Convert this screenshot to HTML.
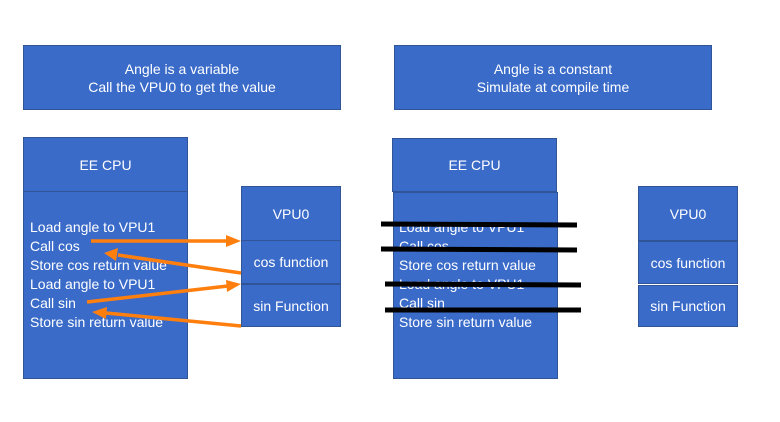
<!DOCTYPE html>
<html><head><style>
body{margin:0;width:780px;height:422px;background:#fff;position:relative;overflow:hidden;font-family:"Liberation Sans",sans-serif;}
.b{position:absolute;background:#3a6bc9;border:1px solid #2f5597;box-sizing:border-box;color:#fff;}
.c{display:flex;align-items:center;justify-content:center;text-align:center;font-size:14px;line-height:18px;white-space:nowrap;}
.t{position:absolute;color:#fff;font-size:14px;line-height:19px;white-space:nowrap;}
</style></head><body>
<div class="b c" style="left:23px;top:45px;width:318px;height:65px">Angle is a variable<br>Call the VPU0 to get the value</div>
<div class="b c" style="left:394px;top:45px;width:318px;height:65px">Angle is a constant<br>Simulate at compile time</div>

<div class="b c" style="left:23px;top:137px;width:165px;height:55px">EE CPU</div>
<div class="b" style="left:23px;top:191px;width:165px;height:188px"></div>
<div class="t" style="left:30px;top:218px">Load angle to VPU1<br>Call cos<br>Store cos return value<br>Load angle to VPU1<br>Call sin<br>Store sin return value</div>
<div class="b c" style="left:241px;top:186px;width:100px;height:55px">VPU0</div>
<div class="b c" style="left:241px;top:240px;width:100px;height:44px">cos function</div>
<div class="b c" style="left:241px;top:284px;width:100px;height:43px">sin Function</div>

<div class="b c" style="left:392px;top:138px;width:165px;height:54px">EE CPU</div>
<div class="b" style="left:393px;top:192px;width:165px;height:187px"></div>
<div class="t" style="left:399px;top:218px">Load angle to VPU1<br>Call cos<br>Store cos return value<br>Load angle to VPU1<br>Call sin<br>Store sin return value</div>
<div class="b c" style="left:638px;top:186px;width:100px;height:55px">VPU0</div>
<div class="b c" style="left:638px;top:241px;width:100px;height:43px">cos function</div>
<div class="b c" style="left:638px;top:285px;width:100px;height:42px">sin Function</div>

<svg style="position:absolute;left:0;top:0" width="780" height="422">
<g stroke="#ff7f0e" stroke-width="3.5" fill="#ff7f0e">
<line x1="91" y1="241" x2="228" y2="241"/><polygon points="241,241 226,235 226,247" stroke="none"/>
<line x1="241" y1="273" x2="118" y2="255"/><polygon points="104,253 118,248 116,261" stroke="none"/>
<line x1="87" y1="302" x2="228" y2="286"/><polygon points="241,284 226,280 227,292" stroke="none"/>
<line x1="241" y1="326" x2="106" y2="313"/><polygon points="92,312 107,307 106,319" stroke="none"/>
</g>
<g stroke="#000" stroke-width="5">
<line x1="381" y1="224" x2="577" y2="225"/>
<line x1="381" y1="249" x2="577" y2="250"/>
<line x1="385" y1="284" x2="581" y2="285"/>
<line x1="385" y1="310" x2="581" y2="310"/>
</g>
</svg>
</body></html>
